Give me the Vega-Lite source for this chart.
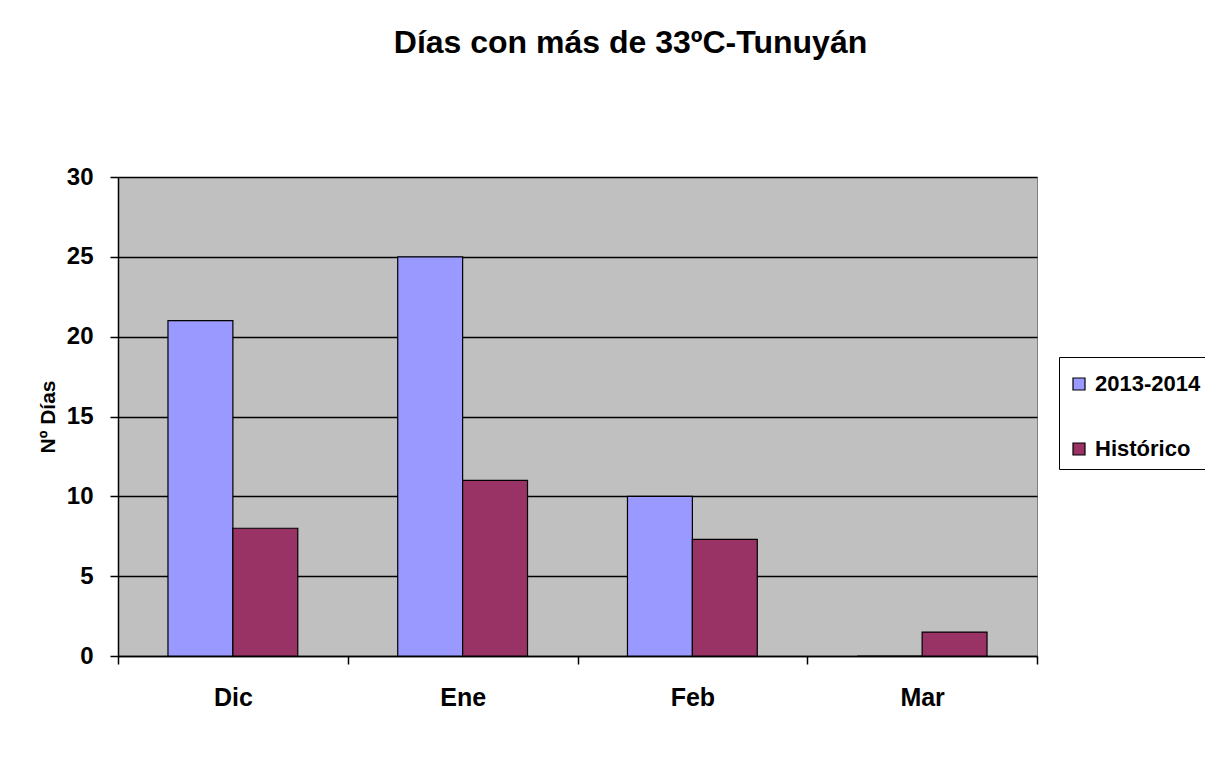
{
  "$schema": "https://vega.github.io/schema/vega-lite/v6.json",
  "autosize": "none",
  "width": 919,
  "height": 479,
  "padding": {"left": 118, "top": 177, "right": 168, "bottom": 107},
  "background": "white",
  "title": {
    "text": "Días con más de 33ºC-Tunuyán",
    "font": "Liberation Sans",
    "fontSize": 32,
    "fontWeight": "bold",
    "color": "black",
    "anchor": "middle",
    "dx": 53,
    "offset": 105
  },
  "data": {
    "values": [
      {"mes": "Dic", "serie": "2013-2014", "dias": 21},
      {"mes": "Dic", "serie": "Histórico", "dias": 8},
      {"mes": "Ene", "serie": "2013-2014", "dias": 25},
      {"mes": "Ene", "serie": "Histórico", "dias": 11},
      {"mes": "Feb", "serie": "2013-2014", "dias": 10},
      {"mes": "Feb", "serie": "Histórico", "dias": 7.3},
      {"mes": "Mar", "serie": "2013-2014", "dias": 0},
      {"mes": "Mar", "serie": "Histórico", "dias": 1.5}
    ]
  },
  "mark": {"type": "bar", "stroke": "black", "strokeWidth": 1.2},
  "encoding": {
    "x": {
      "field": "mes",
      "type": "nominal",
      "sort": ["Dic", "Ene", "Feb", "Mar"],
      "scale": {"paddingInner": 0, "paddingOuter": 0},
      "axis": {
        "title": null,
        "labelAngle": 0,
        "tickBand": "extent",
        "labelFont": "Liberation Sans",
        "labelFontSize": 25,
        "labelFontWeight": "bold",
        "labelColor": "black",
        "labelPadding": 21,
        "domainColor": "black",
        "domainWidth": 1.5,
        "tickColor": "black",
        "tickSize": 8,
        "tickWidth": 1.5
      }
    },
    "xOffset": {
      "field": "serie",
      "type": "nominal",
      "scale": {"paddingInner": 0, "paddingOuter": 0.77}
    },
    "y": {
      "field": "dias",
      "type": "quantitative",
      "scale": {"domain": [0, 30], "nice": false},
      "axis": {
        "title": "Nº Días",
        "values": [0, 5, 10, 15, 20, 25, 30],
        "titleFont": "Liberation Sans",
        "titleFontSize": 21,
        "titleFontWeight": "bold",
        "titleColor": "black",
        "titlePadding": 8,
        "labelFont": "Liberation Sans",
        "labelFontSize": 24,
        "labelFontWeight": "bold",
        "labelColor": "black",
        "labelPadding": 17,
        "domainColor": "black",
        "domainWidth": 1.5,
        "tickColor": "black",
        "tickSize": 8,
        "tickWidth": 1.5,
        "grid": true,
        "gridColor": "black",
        "gridWidth": 1.3
      }
    },
    "color": {
      "field": "serie",
      "type": "nominal",
      "scale": {"domain": ["2013-2014", "Histórico"], "range": ["#9999FF", "#993366"]},
      "legend": {
        "title": " ",
        "titleFontSize": 7,
        "titlePadding": 0,
        "orient": "none",
        "legendX": 941,
        "legendY": 180,
        "symbolType": "square",
        "symbolSize": 144,
        "symbolStrokeColor": "black",
        "symbolStrokeWidth": 1.2,
        "labelFont": "Liberation Sans",
        "labelFontSize": 22,
        "labelFontWeight": "bold",
        "labelColor": "black",
        "labelOffset": 5,
        "rowPadding": 43,
        "strokeColor": "black",
        "padding": 9,
        "fillColor": "white"
      }
    }
  },
  "config": {
    "view": {"fill": "#C0C0C0", "stroke": "#808080", "strokeWidth": 1}
  }
}
